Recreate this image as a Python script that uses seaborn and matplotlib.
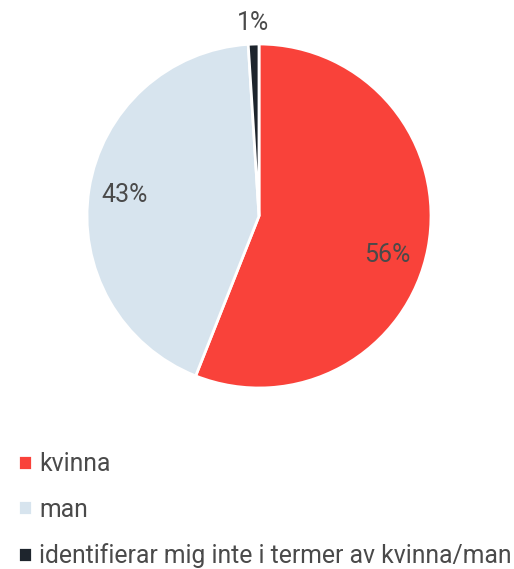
import numpy as np
import matplotlib
matplotlib.use('Agg')
import matplotlib.pyplot as plt
import seaborn as sns

# data
labels = ['kvinna', 'man', 'identifierar mig inte i termer av kvinna/man']
shares = [56, 43, 1]
colors = ['#F9423A', '#D7E4EE', '#1E252D']

sns.set_theme(style='white')
plt.rcParams['font.family'] = ['Roboto', 'DejaVu Sans']
text_color = '#4A4A4A'

fig = plt.figure(figsize=(5.14, 5.69), dpi=100)
# pie centre ~ (259, 216) px, radius ~172 px
ax = fig.add_axes([(259 - 172) / 514, (569 - 388) / 569, 344 / 514, 344 / 569])

wedges, texts, autotexts = ax.pie(
    shares, colors=colors, startangle=90, counterclock=False,
    autopct='%1.0f%%', pctdistance=0.79,
    wedgeprops=dict(edgecolor='white', linewidth=2),
    textprops=dict(fontsize=18, color=text_color))

# small slice label goes outside, big red one sits a little lower
for w, t, v in zip(wedges, autotexts, shares):
    ang = np.deg2rad((w.theta1 + w.theta2) / 2)
    if v < 5:
        t.set_position((1.12 * np.cos(ang), 1.12 * np.sin(ang)))
    elif v > 50:
        ang -= np.deg2rad(6)
        t.set_position((0.78 * np.cos(ang), 0.78 * np.sin(ang)))

ax.set_xlim(-1, 1)
ax.set_ylim(-1, 1)
ax.set_aspect('equal')
ax.axis('off')

fig.legend(wedges, labels, loc='upper left', bbox_to_anchor=(0.035, 0.205),
           frameon=False, fontsize=17.8, labelcolor=text_color,
           handlelength=0.55, handleheight=0.55, handletextpad=0.3,
           labelspacing=0.86, borderaxespad=0, borderpad=0)

fig.savefig('out.png', dpi=100)
